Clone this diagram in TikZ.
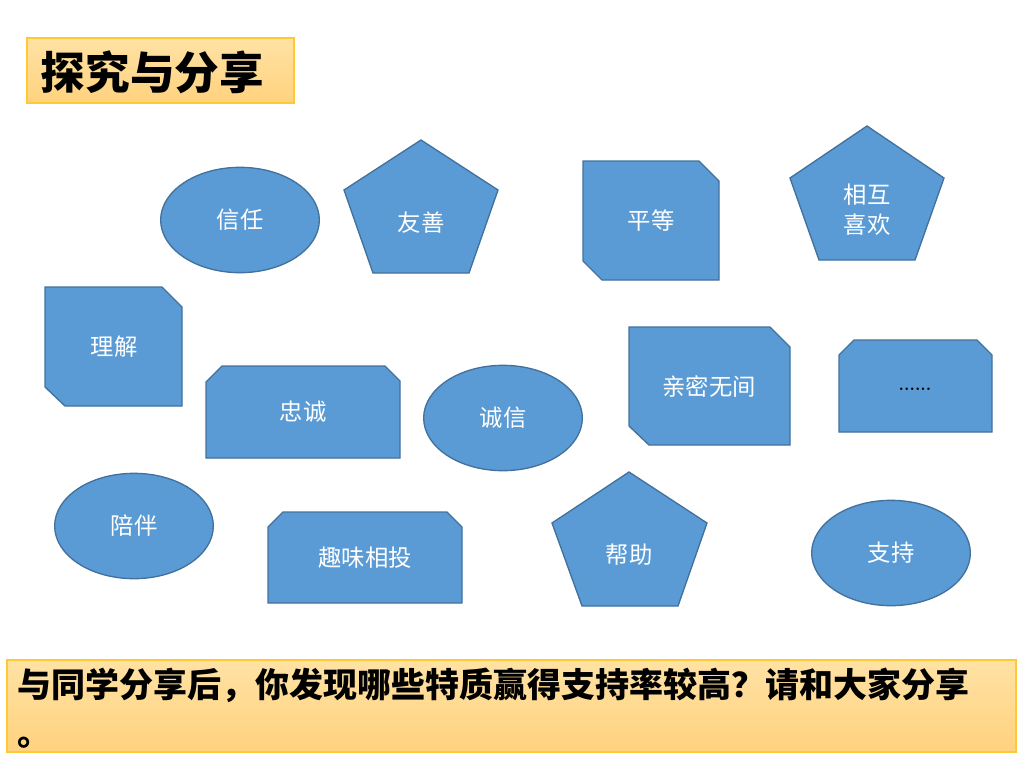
\documentclass[tikz,border=0pt]{standalone}
\usepackage{fontspec}
\newfontfamily\cjk{Noto Sans CJK SC}
\usetikzlibrary{shapes.geometric,positioning}
\definecolor{blockblue}{HTML}{5B9BD5}
\definecolor{blockedge}{HTML}{41719C}
\definecolor{notetop}{HTML}{FFE2A4}
\definecolor{notebot}{HTML}{FFD27E}
\definecolor{noteedge}{HTML}{FFC936}

\begin{document}
\begin{tikzpicture}[x=0.75pt, y=-0.75pt,
    block/.style={fill=blockblue, draw=blockedge, line width=1pt},
    oval/.style={ellipse, block, minimum width=119pt, minimum height=79pt, inner sep=0pt,
                 text=white, font=\cjk\fontsize{17.5}{20}\selectfont},
    lbl/.style={text=white, font=\cjk\fontsize{17.5}{22.5}\selectfont, align=center},
    note/.style={top color=notetop, bottom color=notebot, draw=noteedge, line width=0.8pt}]
    \useasboundingbox (0,0) rectangle (1024,768);

    % Titel oben links
    \draw[note] (27,38) rectangle (294,103);
    \node[anchor=west, font=\cjk\bfseries\fontsize{33.5}{36}\selectfont] (titel) at (36,72) {探究与分享};

    % Ellipsen
    \node[oval] (xinren) at (240,220) {信任};
    \node[oval] (chengxin) at (503,418) {诚信};
    \node[oval] (peiban) at (134,526) {陪伴};
    \node[oval] (zhichi) at (891,553) {支持};

    % Fuenfecke
    \draw[block] (421,140) -- (498,190) -- (469,273) -- (373,273) -- (344,190) -- cycle;
    \node[lbl] (youshan) at (421,223) {友善};
    \draw[block] (867,126) -- (944,178) -- (915,260) -- (819,260) -- (790,178) -- cycle;
    \node[lbl] (xihuan) at (867,210) {相互\\喜欢};
    \draw[block] (629,472) -- (707,523) -- (678,606) -- (582,606) -- (552,523) -- cycle;
    \node[lbl] (bangzhu) at (629,555) {帮助};

    % Rechtecke, diagonal abgeschnitten
    \draw[block] (583,161) -- (699,161) -- (719,181) -- (719,280) -- (602,280) -- (583,261) -- cycle;
    \node[lbl] (pingdeng) at (651,221) {平等};
    \draw[block] (45,287) -- (162,287) -- (182,307) -- (182,406) -- (65,406) -- (45,387) -- cycle;
    \node[lbl] (lijie) at (114,347) {理解};
    \draw[block] (629,327) -- (770,327) -- (790,347) -- (790,445) -- (649,445) -- (629,426) -- cycle;
    \node[lbl] (qinmi) at (709,387) {亲密无间};

    % Rechtecke, oben abgeschnitten
    \draw[block] (206,382) -- (222,366) -- (385,366) -- (400,381) -- (400,458) -- (206,458) -- cycle;
    \node[lbl] (zhongcheng) at (303,412) {忠诚};
    \draw[block] (268,527) -- (283,512) -- (447,512) -- (462,527) -- (462,603) -- (268,603) -- cycle;
    \node[lbl] (quwei) at (365,558) {趣味相投};
    \draw[block] (839,355) -- (854,340) -- (977,340) -- (992,355) -- (992,432) -- (839,432) -- cycle;
    \node[font=\bfseries\fontsize{13}{15}\selectfont] (mehr) at (915,389) {......};

    % Frage unten
    \draw[note] (7,660) rectangle (1016,752);
    \node[anchor=north west, align=left, inner sep=0pt,
          font=\cjk\bfseries\fontsize{25.5}{36}\selectfont] (frage) at (17,668)
        {与同学分享后，你发现哪些特质赢得支持率较高？请和大家分享\\。};
\end{tikzpicture}
\end{document}
